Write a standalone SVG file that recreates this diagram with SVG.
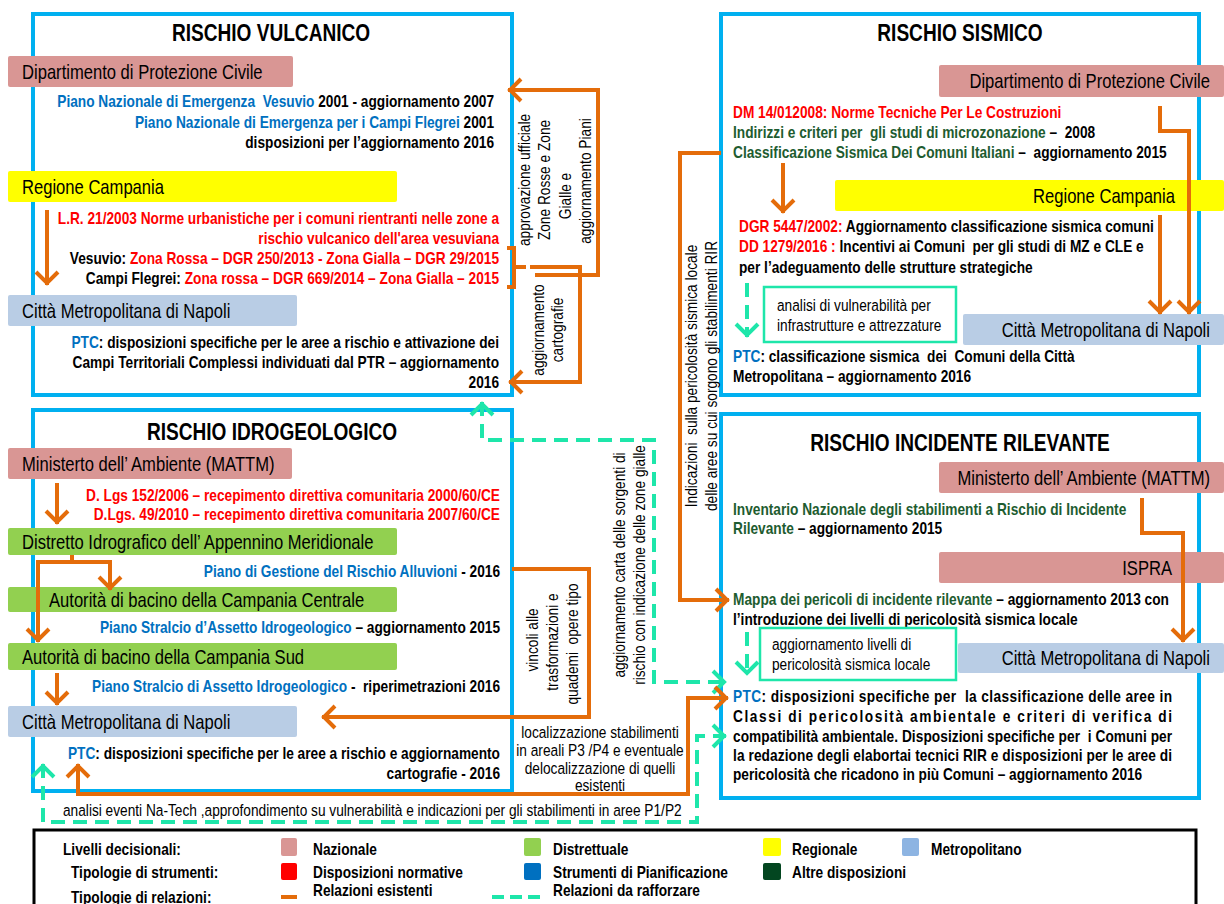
<svg xmlns="http://www.w3.org/2000/svg" width="1224" height="904" viewBox="0 0 1224 904">
<defs>
<style>
/* condensed sans: Liberation Sans squeezed horizontally via scale(.83 1) on each text */
.t{font-family:"Liberation Sans",Arial,sans-serif;white-space:pre;fill:#000}
.b{font-weight:bold;font-size:16.5px}
.lab{font-size:20px}
.title{font-weight:bold;font-size:23px;text-anchor:middle}
.rot{font-size:16.5px;text-anchor:middle}
.sm{font-size:16.5px}
.lg{font-weight:bold;font-size:16.5px}
.end{text-anchor:end}
.mid{text-anchor:middle}
.frame{fill:none;stroke:#00B0F0;stroke-width:4}
.or{fill:none;stroke:#E46C0A;stroke-width:4}
.gd{fill:none;stroke:#1EE6AA;stroke-width:4;stroke-dasharray:14 8}
.gbox{fill:#fff;stroke:#1EE6AA;stroke-width:2.5}
.bl{fill:#0070C0}
.rd{fill:#FF0000}
.gn{fill:#1E5C30}
.nat{fill:#D99694}
.reg{fill:#FFFF00}
.dis{fill:#92D050}
.met{fill:#B9CDE5}
</style>
<marker id="ao" markerUnits="userSpaceOnUse" viewBox="-18 -14 22 28" markerWidth="22" markerHeight="28" refX="0" refY="0" orient="auto-start-reverse">
<path d="M-13,-11 L-2,0 L-13,11" fill="none" stroke="#E46C0A" stroke-width="4"/>
</marker>
<marker id="ag" markerUnits="userSpaceOnUse" viewBox="-18 -14 22 28" markerWidth="22" markerHeight="28" refX="0" refY="0" orient="auto-start-reverse">
<path d="M-13,-11 L-2,0 L-13,11" fill="none" stroke="#1EE6AA" stroke-width="4"/>
</marker>
</defs>
<rect width="1224" height="904" fill="#fff"/>

<!-- ===== RISCHIO VULCANICO ===== -->
<g id="vulcanico">
<rect class="frame" x="33" y="14" width="479" height="381"/>
<text class="t title" transform="translate(271 41) scale(.83 1)">RISCHIO VULCANICO</text>
</g>
<g id="vul-dpc">
<rect class="nat" x="8" y="56" width="285" height="31" rx="2"/>
<text class="t lab" transform="translate(22 79) scale(.83 1)">Dipartimento di Protezione Civile</text>
</g>
<g id="vul-dpc-text">
<text class="t b end" transform="translate(494 107) scale(.83 1)"><tspan class="bl">Piano Nazionale di Emergenza  Vesuvio</tspan> 2001 - aggiornamento 2007</text>
<text class="t b end" transform="translate(494 128) scale(.83 1)"><tspan class="bl">Piano Nazionale di Emergenza per i Campi Flegrei</tspan> 2001</text>
<text class="t b end" transform="translate(494 148) scale(.83 1)">disposizioni per l’aggiornamento 2016</text>
</g>
<g id="vul-regione">
<rect class="reg" x="8" y="171" width="389" height="31" rx="2"/>
<text class="t lab" transform="translate(22 194) scale(.83 1)">Regione Campania</text>
</g>
<g id="vul-regione-text">
<text class="t b end rd" transform="translate(499 224) scale(.83 1)">L.R. 21/2003 Norme urbanistiche per i comuni rientranti nelle zone a</text>
<text class="t b end rd" transform="translate(499 244) scale(.83 1)">rischio vulcanico dell'area vesuviana</text>
<text class="t b end" transform="translate(499 264) scale(.83 1)">Vesuvio: <tspan class="rd">Zona Rossa – DGR 250/2013 - Zona Gialla – DGR 29/2015</tspan></text>
<text class="t b end" transform="translate(499 284) scale(.83 1)">Campi Flegrei: <tspan class="rd">Zona rossa – DGR 669/2014 – Zona Gialla – 2015</tspan></text>
</g>
<g id="vul-citta">
<rect class="met" x="8" y="295" width="289" height="31" rx="2"/>
<text class="t lab" transform="translate(22 318) scale(.83 1)">Città Metropolitana di Napoli</text>
</g>
<g id="vul-citta-text">
<text class="t b end" transform="translate(499 348) scale(.83 1)"><tspan class="bl">PTC</tspan>: disposizioni specifiche per le aree a rischio e attivazione dei</text>
<text class="t b end" transform="translate(499 368) scale(.83 1)">Campi Territoriali Complessi individuati dal PTR – aggiornamento</text>
<text class="t b end" transform="translate(499 388) scale(.83 1)">2016</text>
</g>

<!-- ===== RISCHIO SISMICO ===== -->
<g id="sismico">
<rect class="frame" x="721" y="14" width="478" height="381"/>
<text class="t title" transform="translate(960 41) scale(.83 1)">RISCHIO SISMICO</text>
</g>
<g id="sis-dpc">
<rect class="nat" x="939" y="65" width="285" height="32" rx="2"/>
<text class="t lab end" transform="translate(1210 88) scale(.83 1)">Dipartimento di Protezione Civile</text>
</g>
<g id="sis-dpc-text">
<text class="t b rd" transform="translate(733 118) scale(.83 1)">DM 14/012008: Norme Tecniche Per Le Costruzioni</text>
<text class="t b" transform="translate(733 138) scale(.83 1)"><tspan class="gn">Indirizzi e criteri per  gli studi di microzonazione</tspan> –  2008</text>
<text class="t b" transform="translate(733 158) scale(.83 1)"><tspan class="gn">Classificazione Sismica Dei Comuni Italiani</tspan> –  aggiornamento 2015</text>
</g>
<g id="sis-regione">
<rect class="reg" x="835" y="180" width="389" height="31" rx="2"/>
<text class="t lab end" transform="translate(1175 203) scale(.83 1)">Regione Campania</text>
</g>
<g id="sis-regione-text">
<text class="t b" transform="translate(739 232) scale(.83 1)"><tspan class="rd">DGR 5447/2002:</tspan> Aggiornamento classificazione sismica comuni</text>
<text class="t b" transform="translate(739 252) scale(.83 1)"><tspan class="rd">DD 1279/2016 :</tspan> Incentivi ai Comuni  per gli studi di MZ e CLE e</text>
<text class="t b" transform="translate(739 273) scale(.83 1)">per l’adeguamento delle strutture strategiche</text>
</g>
<g id="sis-vulnerabilita">
<rect class="gbox" x="764" y="287" width="192" height="55"/>
<text class="t sm" transform="translate(777 311) scale(.83 1)">analisi di vulnerabilità per</text>
<text class="t sm" transform="translate(777 331) scale(.83 1)">infrastrutture e attrezzature</text>
</g>
<g id="sis-citta">
<rect class="met" x="963" y="314" width="261" height="31" rx="2"/>
<text class="t lab end" transform="translate(1210 337) scale(.83 1)">Città Metropolitana di Napoli</text>
</g>
<g id="sis-citta-text">
<text class="t b" transform="translate(733 362) scale(.83 1)"><tspan class="bl">PTC</tspan>: classificazione sismica  dei  Comuni della Città</text>
<text class="t b" transform="translate(733 382) scale(.83 1)">Metropolitana – aggiornamento 2016</text>
</g>

<!-- ===== RISCHIO IDROGEOLOGICO ===== -->
<g id="idrogeologico">
<rect class="frame" x="33" y="410" width="479" height="381"/>
<text class="t title" transform="translate(272 440) scale(.83 1)">RISCHIO IDROGEOLOGICO</text>
</g>
<g id="idr-mattm">
<rect class="nat" x="8" y="448" width="284" height="31" rx="2"/>
<text class="t lab" transform="translate(22 471) scale(.83 1)">Ministerto dell’ Ambiente (MATTM)</text>
</g>
<g id="idr-mattm-text">
<text class="t b end rd" transform="translate(500 501) scale(.83 1)">D. Lgs 152/2006 – recepimento direttiva comunitaria 2000/60/CE</text>
<text class="t b end rd" transform="translate(500 520) scale(.83 1)">D.Lgs. 49/2010 – recepimento direttiva comunitaria 2007/60/CE</text>
</g>
<g id="idr-distretto">
<rect class="dis" x="8" y="528" width="389" height="27" rx="2"/>
<text class="t lab" transform="translate(22 549) scale(.83 1)">Distretto Idrografico dell’ Appennino Meridionale</text>
</g>
<g id="idr-distretto-text">
<text class="t b end" transform="translate(500 577) scale(.83 1)"><tspan class="bl">Piano di Gestione del Rischio Alluvioni</tspan> - 2016</text>
</g>
<g id="idr-centrale">
<rect class="dis" x="8" y="587" width="389" height="25" rx="2"/>
<text class="t lab" transform="translate(49 607) scale(.83 1)">Autorità di bacino della Campania Centrale</text>
</g>
<g id="idr-centrale-text">
<text class="t b end" transform="translate(500 633) scale(.83 1)"><tspan class="bl">Piano Stralcio d’Assetto Idrogeologico</tspan> – aggiornamento 2015</text>
</g>
<g id="idr-sud">
<rect class="dis" x="8" y="643" width="389" height="27" rx="2"/>
<text class="t lab" transform="translate(22 664) scale(.83 1)">Autorità di bacino della Campania Sud</text>
</g>
<g id="idr-sud-text">
<text class="t b end" transform="translate(500 692) scale(.83 1)"><tspan class="bl">Piano Stralcio di Assetto Idrogeologico</tspan> -  riperimetrazioni 2016</text>
</g>
<g id="idr-citta">
<rect class="met" x="8" y="706" width="289" height="31" rx="2"/>
<text class="t lab" transform="translate(22 729) scale(.83 1)">Città Metropolitana di Napoli</text>
</g>
<g id="idr-citta-text">
<text class="t b end" transform="translate(500 759) scale(.83 1)"><tspan class="bl">PTC</tspan>: disposizioni specifiche per le aree a rischio e aggiornamento</text>
<text class="t b end" transform="translate(500 779) scale(.83 1)">cartografie - 2016</text>
</g>

<!-- ===== RISCHIO INCIDENTE RILEVANTE ===== -->
<g id="incidente">
<rect class="frame" x="721" y="414" width="478" height="384"/>
<text class="t title" transform="translate(960 451) scale(.83 1)">RISCHIO INCIDENTE RILEVANTE</text>
</g>
<g id="inc-mattm">
<rect class="nat" x="939" y="462" width="285" height="31" rx="2"/>
<text class="t lab end" transform="translate(1210 485) scale(.83 1)">Ministerto dell’ Ambiente (MATTM)</text>
</g>
<g id="inc-mattm-text">
<text class="t b gn" transform="translate(733 515) scale(.83 1)">Inventario Nazionale degli stabilimenti a Rischio di Incidente</text>
<text class="t b" transform="translate(733 534) scale(.83 1)"><tspan class="gn">Rilevante</tspan> – aggiornamento 2015</text>
</g>
<g id="inc-ispra">
<rect class="nat" x="939" y="552" width="285" height="31" rx="2"/>
<text class="t lab end" transform="translate(1172 575) scale(.83 1)">ISPRA</text>
</g>
<g id="inc-ispra-text">
<text class="t b" transform="translate(733 605) scale(.83 1)"><tspan class="gn">Mappa dei pericoli di incidente rilevante</tspan> – aggiornamento 2013 con</text>
<text class="t b" transform="translate(733 625) scale(.83 1)">l’introduzione dei livelli di pericolosità sismica locale</text>
</g>
<g id="inc-livelli">
<rect class="gbox" x="760" y="628" width="196" height="52"/>
<text class="t sm" transform="translate(772 650) scale(.83 1)">aggiornamento livelli di</text>
<text class="t sm" transform="translate(772 670) scale(.83 1)">pericolosità sismica locale</text>
</g>
<g id="inc-citta">
<rect class="met" x="958" y="643" width="266" height="30" rx="2"/>
<text class="t lab end" transform="translate(1210 665) scale(.83 1)">Città Metropolitana di Napoli</text>
</g>
<g id="inc-citta-text">
<text class="t b" transform="translate(733 702) scale(.83 1)" textLength="529" lengthAdjust="spacing"><tspan class="bl">PTC</tspan>: disposizioni specifiche per  la classificazione delle aree in</text>
<text class="t b" transform="translate(733 722) scale(.83 1)" textLength="529" lengthAdjust="spacing">Classi di pericolosità ambientale e criteri di verifica di</text>
<text class="t b" transform="translate(733 742) scale(.83 1)" textLength="529" lengthAdjust="spacing">compatibilità ambientale. Disposizioni specifiche per  i Comuni per</text>
<text class="t b" transform="translate(733 761) scale(.83 1)" textLength="529" lengthAdjust="spacing">la redazione degli elabortai tecnici RIR e disposizioni per le aree di</text>
<text class="t b" transform="translate(733 780) scale(.83 1)">pericolosità che ricadono in più Comuni – aggiornamento 2016</text>
</g>

<!-- ===== Connectors ===== -->
<g id="connectors">
<!-- flows inside each frame -->
<path class="or" d="M47,210 V285" marker-end="url(#ao)"/>
<path class="or" d="M783,163 V213" marker-end="url(#ao)"/>
<path class="or" d="M1160,106 V131 H1189 V314" marker-end="url(#ao)"/>
<path class="or" d="M1160,215 V314" marker-end="url(#ao)"/>
<path class="or" d="M1142,498 V533 H1183 V642" marker-end="url(#ao)"/>
<path class="or" d="M57,483 V524" marker-end="url(#ao)"/>
<path class="or" d="M72,555 V562 H110 V590" marker-end="url(#ao)"/>
<path class="or" d="M72,562 H38 V642" marker-end="url(#ao)"/>
<path class="or" d="M57,673 V705" marker-end="url(#ao)"/>
<path class="gd" d="M747,283 V337" marker-end="url(#ag)"/>
<path class="gd" d="M747,632 V675" marker-end="url(#ag)"/>

<!-- vulcanico loops -->
<path class="or" d="M507,248 H514 V287 H507 M514,267 H526" stroke-width="3.5"/>
<path class="or" d="M535,275 H598 V90 H508" marker-end="url(#ao)"/>
<path class="or" d="M530,267 H580 V382 H509" marker-end="url(#ao)"/>
<text class="t rot" transform="translate(530 180) rotate(-90) scale(.83 1)">approvazione ufficiale</text>
<text class="t rot" transform="translate(550 180) rotate(-90) scale(.83 1)">Zone Rosse e Zone</text>
<text class="t rot" transform="translate(571 196) rotate(-90) scale(.83 1)">Gialle e</text>
<text class="t rot" transform="translate(591 181) rotate(-90) scale(.83 1)">aggiornamento Piani</text>
<text class="t rot" transform="translate(544 330) rotate(-90) scale(.83 1)">aggiornamento</text>
<text class="t rot" transform="translate(563 330) rotate(-90) scale(.83 1)">cartografie</text>

<!-- sismico to incidente -->
<path class="or" d="M721,153 H680 V600 H729" marker-end="url(#ao)"/>
<text class="t rot" transform="translate(697 376) rotate(-90) scale(.83 1)">Indicazioni  sulla pericolosità sismica locale</text>
<text class="t rot" transform="translate(717 376) rotate(-90) scale(.83 1)">delle aree su cui sorgono gli stabilimenti RIR</text>

<!-- idrogeologico relations -->
<path class="or" d="M512,569 H589 V717 H322" marker-end="url(#ao)"/>
<text class="t rot" transform="translate(538 640) rotate(-90) scale(.83 1)">vincoli alle</text>
<text class="t rot" transform="translate(558 642) rotate(-90) scale(.83 1)">trasformazioni e</text>
<text class="t rot" transform="translate(578 644) rotate(-90) scale(.83 1)">quademi  opere tipo</text>

<path class="gd" d="M482,402 V440 H654 V682 H726" marker-start="url(#ag)" marker-end="url(#ag)"/>
<text class="t rot" transform="translate(625 565) rotate(-90) scale(.83 1)">aggiornamento carta delle sorgenti di</text>
<text class="t rot" transform="translate(645 565) rotate(-90) scale(.83 1)">rischio con indicazione delle zone gialle</text>

<path class="or" d="M78,764 V794 H688 V698 H728" marker-start="url(#ao)" marker-end="url(#ao)"/>
<text class="t sm mid" transform="translate(600 738) scale(.83 1)">localizzazione stabilimenti</text>
<text class="t sm mid" transform="translate(600 756) scale(.83 1)">in areali P3 /P4 e eventuale</text>
<text class="t sm mid" transform="translate(600 774) scale(.83 1)">delocalizzazione di quelli</text>
<text class="t sm mid" transform="translate(600 791) scale(.83 1)">esistenti</text>

<path class="gd" d="M43,764 V822 H697 V736 H726" marker-start="url(#ag)" marker-end="url(#ag)"/>
<text class="t sm" transform="translate(63 816) scale(.83 1)">analisi eventi Na-Tech ,approfondimento su vulnerabilità e indicazioni per gli stabilimenti in aree P1/P2</text>
</g>

<!-- ===== Legend ===== -->
<g id="legend">
<rect x="34" y="830" width="1162" height="92" fill="none" stroke="#000" stroke-width="3"/>
<text class="t lg" transform="translate(63 855) scale(.83 1)">Livelli decisionali:</text>
<text class="t lg" transform="translate(71 878) scale(.83 1)">Tipologie di strumenti:</text>
<text class="t lg" transform="translate(71 903) scale(.83 1)">Tipologie di relazioni:</text>

<rect class="nat" x="281" y="838" width="16" height="18" rx="2"/>
<text class="t lg" transform="translate(313 855) scale(.83 1)">Nazionale</text>
<rect x="281" y="863" width="16" height="17" rx="2" fill="#FF0000"/>
<text class="t lg" transform="translate(313 878) scale(.83 1)">Disposizioni normative</text>
<rect x="281" y="895" width="16" height="4" fill="#E46C0A"/>
<text class="t lg" transform="translate(313 896) scale(.83 1)">Relazioni esistenti</text>

<rect class="dis" x="524" y="838" width="17" height="18" rx="2"/>
<text class="t lg" transform="translate(553 855) scale(.83 1)">Distrettuale</text>
<rect x="524" y="863" width="17" height="17" rx="2" fill="#0070C0"/>
<text class="t lg" transform="translate(553 878) scale(.83 1)">Strumenti di Pianificazione</text>
<path d="M492,897 H541" fill="none" stroke="#1EE6AA" stroke-width="4" stroke-dasharray="12 6"/>
<text class="t lg" transform="translate(553 896) scale(.83 1)">Relazioni da rafforzare</text>

<rect class="reg" x="763" y="838" width="18" height="18" rx="2"/>
<text class="t lg" transform="translate(792 855) scale(.83 1)">Regionale</text>
<rect x="763" y="863" width="18" height="17" rx="2" fill="#034620"/>
<text class="t lg" transform="translate(792 878) scale(.83 1)">Altre disposizioni</text>

<rect x="902" y="838" width="17" height="18" rx="2" fill="#8DB4E2"/>
<text class="t lg" transform="translate(931 855) scale(.83 1)">Metropolitano</text>
</g>
</svg>
